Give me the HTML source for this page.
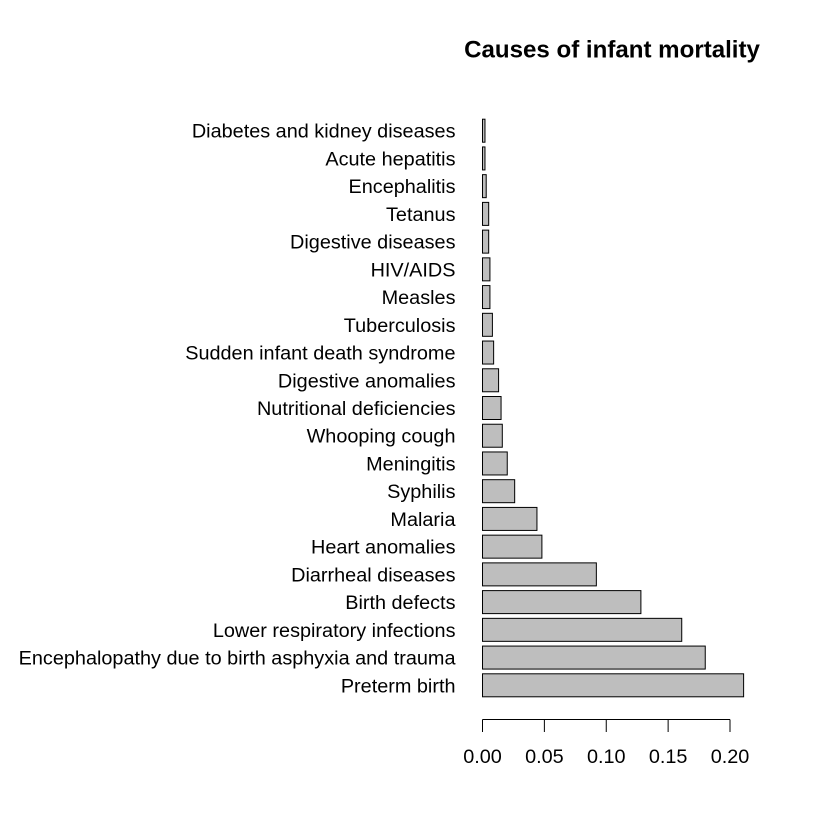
<!DOCTYPE html>
<html>
<head>
<meta charset="utf-8">
<style>
html,body{margin:0;padding:0;background:#fff}
svg{display:block}
text{font-family:"Liberation Sans",sans-serif;fill:#000}
</style>
</head>
<body>
<svg id="chart" xmlns="http://www.w3.org/2000/svg" width="840" height="840" viewBox="0 0 840 840">
<rect width="840" height="840" fill="#fff"/>
<text x="612" y="57.5" text-anchor="middle" font-size="24.1" font-weight="bold">Causes of infant mortality</text>
<g id="bars"></g>
<g id="labels"></g>
<g id="axis"></g>
</svg>
<script>
const categories = ["Preterm birth","Encephalopathy due to birth asphyxia and trauma","Lower respiratory infections","Birth defects","Diarrheal diseases","Heart anomalies","Malaria","Syphilis","Meningitis","Whooping cough","Nutritional deficiencies","Digestive anomalies","Sudden infant death syndrome","Tuberculosis","Measles","HIV/AIDS","Digestive diseases","Tetanus","Encephalitis","Acute hepatitis","Diabetes and kidney diseases"];
const values = [0.211,0.18,0.161,0.128,0.092,0.048,0.044,0.026,0.02,0.016,0.015,0.013,0.009,0.008,0.006,0.006,0.005,0.005,0.003,0.002,0.002];
const tickValues = [0,0.05,0.1,0.15,0.2];
const tickLabels = ["0.00","0.05","0.10","0.15","0.20"];

const NS = "http://www.w3.org/2000/svg";
const x = v => 482.5 + v * 1237.5;
const y = i => 685.3 - i * 27.73;
const barHeight = 23;

const barsGroup = document.getElementById("bars");
const labelsGroup = document.getElementById("labels");
const axisGroup = document.getElementById("axis");

categories.forEach((name, i) => {
  const r = document.createElementNS(NS, "rect");
  
  
  r.setAttribute("x", x(0));
  r.setAttribute("y", y(i) - barHeight / 2);
  r.setAttribute("width", x(values[i]) - x(0));
  r.setAttribute("height", barHeight);
  r.setAttribute("fill", "#bebebe");
  r.setAttribute("stroke", "#000");
  r.setAttribute("stroke-width", "1");
  barsGroup.appendChild(r);

  const t = document.createElementNS(NS, "text");
  
  
  t.setAttribute("x", 455.5);
  t.setAttribute("y", y(i) + 7);
  t.setAttribute("text-anchor", "end");
  t.setAttribute("font-size", "19.85");
  t.textContent = name;
  labelsGroup.appendChild(t);
});

const axisLine = document.createElementNS(NS, "line");


axisLine.setAttribute("x1", x(tickValues[0]));
axisLine.setAttribute("x2", x(tickValues[tickValues.length - 1]));
axisLine.setAttribute("y1", 719.5);
axisLine.setAttribute("y2", 719.5);
axisLine.setAttribute("stroke", "#000");
axisGroup.appendChild(axisLine);

tickValues.forEach((v, i) => {
  const l = document.createElementNS(NS, "line");
  
  
  l.setAttribute("x1", x(v));
  l.setAttribute("x2", x(v));
  l.setAttribute("y1", 719.5);
  l.setAttribute("y2", 732);
  l.setAttribute("stroke", "#000");
  axisGroup.appendChild(l);

  const t = document.createElementNS(NS, "text");
  
  
  t.setAttribute("x", x(v));
  t.setAttribute("y", 763);
  t.setAttribute("text-anchor", "middle");
  t.setAttribute("font-size", "19.85");
  t.textContent = tickLabels[i];
  axisGroup.appendChild(t);
});
</script>
</body>
</html>
